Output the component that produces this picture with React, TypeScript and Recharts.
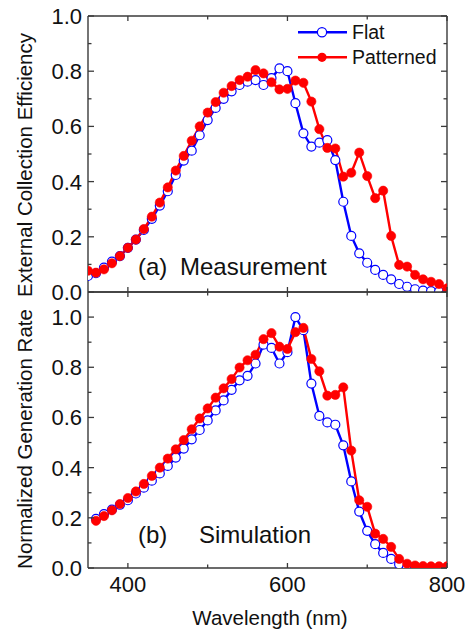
import React from 'react';
import { LineChart, Line, XAxis, YAxis } from 'recharts';

// ---------- data ----------
const wavelengthMeasured = [
  350, 360, 370, 380, 390, 400, 410, 420, 430, 440, 450, 460, 470, 480, 490, 500,
  510, 520, 530, 540, 550, 560, 570, 580, 590, 600, 610, 620, 630, 640, 650, 660,
  670, 680, 690, 700, 710, 720, 730, 740, 750, 760, 770, 780, 790, 800,
];
const flatMeasured = [
  0.058, 0.068, 0.088, 0.11, 0.13, 0.16, 0.19, 0.225, 0.265, 0.313, 0.365, 0.424, 0.476, 0.512, 0.568, 0.623,
  0.667, 0.7, 0.727, 0.75, 0.762, 0.768, 0.75, 0.775, 0.81, 0.8, 0.684, 0.575, 0.527, 0.541, 0.55, 0.478,
  0.327, 0.203, 0.14, 0.106, 0.08, 0.062, 0.046, 0.029, 0.019, 0.01, 0.005, 0.003, 0.001, 0.0,
];
const patternedMeasured = [
  0.077, 0.07, 0.082, 0.104, 0.13, 0.16, 0.19, 0.228, 0.273, 0.324, 0.379, 0.44, 0.493, 0.548, 0.6, 0.65,
  0.688, 0.722, 0.746, 0.768, 0.78, 0.804, 0.792, 0.76, 0.734, 0.736, 0.766, 0.758, 0.69, 0.59, 0.522, 0.52,
  0.418, 0.432, 0.505, 0.42, 0.34, 0.367, 0.203, 0.098, 0.092, 0.062, 0.046, 0.037, 0.029, 0.013,
];

const wavelengthSimulated = [
  360, 370, 380, 390, 400, 410, 420, 430, 440, 450, 460, 470, 480, 490, 500,
  510, 520, 530, 540, 550, 560, 570, 580, 590, 600, 610, 620, 630, 640, 650, 660,
  670, 680, 690, 700, 710, 720, 730, 740, 750, 760, 770, 780, 790, 800,
];
const flatSimulated = [
  0.196, 0.215, 0.233, 0.252, 0.27, 0.297, 0.32, 0.348, 0.377, 0.407, 0.44, 0.476, 0.513, 0.55, 0.588,
  0.628, 0.668, 0.71, 0.748, 0.766, 0.815, 0.89, 0.877, 0.815, 0.86, 1.0, 0.948, 0.735, 0.606, 0.58, 0.571,
  0.489, 0.345, 0.225, 0.148, 0.095, 0.06, 0.036, 0.015, 0.003, 0, 0, 0, 0, 0,
];
const patternedSimulated = [
  0.188, 0.207, 0.23, 0.255, 0.279, 0.305, 0.335, 0.367, 0.4, 0.436, 0.473, 0.51, 0.553, 0.596, 0.636,
  0.679, 0.716, 0.753, 0.799, 0.828, 0.85, 0.912, 0.936, 0.882, 0.873, 0.94, 0.957, 0.833, 0.784, 0.687, 0.69,
  0.72, 0.468, 0.27, 0.244, 0.137, 0.116, 0.084, 0.036, 0.017, 0.01, 0.008, 0.007, 0.007, 0.007,
];

const xTicks = [400, 500, 600, 700, 800];
const xLabelTicks = [400, 600, 800];
const yTicks = [0, 0.1, 0.2, 0.3, 0.4, 0.5, 0.6, 0.7, 0.8, 0.9, 1.0];
const yLabelTicks = [0, 0.2, 0.4, 0.6, 0.8, 1.0];
const xDomain = [350, 800];
const yDomainMeasured = [0, 1.0];
const yDomainSimulated = [0, 1.1];

const seriesNames = ['Flat', 'Patterned'];
const BLUE = '#0000ff';
const RED = '#ff0000';
const FRAME = '#3a3a3a';
const TEXT = '#111111';
const FONT = '"Liberation Sans", Arial, Helvetica, sans-serif';

const measuredRows = wavelengthMeasured.map((w, i) => ({
  w,
  flat: flatMeasured[i],
  patterned: patternedMeasured[i],
}));
const simulatedRows = wavelengthSimulated.map((w, i) => ({
  w,
  flat: flatSimulated[i],
  patterned: patternedSimulated[i],
}));

// ---------- ticks ----------
const near = (list: number[], v: number) => list.some((t) => Math.abs(t - v) < 1e-6);

function renderYTick(props: any, side: 'left' | 'right', labels: boolean) {
  const { x, y, payload } = props;
  const v = payload.value as number;
  const major = near(yLabelTicks, v);
  const len = major ? 6 : 3.5;
  const dir = side === 'left' ? 1 : -1;
  return (
    <g>
      <line x1={x} x2={x + dir * len} y1={y} y2={y} stroke={FRAME} strokeWidth={1.3} />
      {labels && major ? (
        <text x={x - 6} y={y} dy="0.36em" textAnchor="end" fontSize={22} fontFamily={FONT} fill={TEXT}>
          {v.toFixed(1)}
        </text>
      ) : null}
    </g>
  );
}

function renderXTick(props: any, side: 'top' | 'bottom', labels: boolean) {
  const { x, y, payload } = props;
  const v = payload.value as number;
  const major = near(xLabelTicks, v);
  const len = major ? 5 : 3.5;
  const dir = side === 'bottom' ? -1 : 1;
  return (
    <g>
      <line x1={x} x2={x} y1={y} y2={y + dir * len} stroke={FRAME} strokeWidth={1.3} />
      {labels && major ? (
        <text x={x} y={y + 24} textAnchor="middle" fontSize={22} fontFamily={FONT} fill={TEXT}>
          {String(v)}
        </text>
      ) : null}
    </g>
  );
}

const axisLine = { stroke: FRAME, strokeWidth: 1.4 };

function frameAxes(yDomain: number[], xLabels: boolean) {
  return [
    <XAxis
      key="xb"
      xAxisId="main"
      type="number"
      dataKey="w"
      domain={xDomain}
      allowDataOverflow
      ticks={xTicks}
      interval={0}
      orientation="bottom"
      height={1}
      tickSize={0}
      tickMargin={0}
      axisLine={axisLine}
      tickLine={false}
      tick={(p: any) => renderXTick(p, 'bottom', xLabels)}
    />,
    <XAxis
      key="xt"
      xAxisId="top"
      type="number"
      dataKey="w"
      domain={xDomain}
      allowDataOverflow
      ticks={xTicks}
      interval={0}
      orientation="top"
      height={1}
      tickSize={0}
      tickMargin={0}
      axisLine={axisLine}
      tickLine={false}
      tick={(p: any) => renderXTick(p, 'top', false)}
    />,
    <YAxis
      key="yl"
      yAxisId="main"
      type="number"
      domain={yDomain}
      allowDataOverflow
      ticks={yTicks}
      interval={0}
      orientation="left"
      width={1}
      tickSize={0}
      tickMargin={0}
      axisLine={axisLine}
      tickLine={false}
      tick={(p: any) => renderYTick(p, 'left', true)}
    />,
    <YAxis
      key="yr"
      yAxisId="right"
      type="number"
      domain={yDomain}
      allowDataOverflow
      ticks={yTicks}
      interval={0}
      orientation="right"
      width={1}
      tickSize={0}
      tickMargin={0}
      axisLine={axisLine}
      tickLine={false}
      tick={(p: any) => renderYTick(p, 'right', false)}
    />,
  ];
}

function seriesLines() {
  return [
    <Line
      key="flat"
      xAxisId="main"
      yAxisId="main"
      type="linear"
      dataKey="flat"
      name={seriesNames[0]}
      stroke={BLUE}
      strokeWidth={2.4}
      dot={{ r: 4.5, fill: '#ffffff', stroke: BLUE, strokeWidth: 1.2 }}
      activeDot={false}
      isAnimationActive={false}
    />,
    <Line
      key="patterned"
      xAxisId="main"
      yAxisId="main"
      type="linear"
      dataKey="patterned"
      name={seriesNames[1]}
      stroke={RED}
      strokeWidth={2.4}
      dot={{ r: 4.6, fill: RED, stroke: RED, strokeWidth: 0.6 }}
      activeDot={false}
      isAnimationActive={false}
    />,
  ];
}

const txt = { fontFamily: FONT, fill: TEXT } as const;

export default function App() {
  return (
    <div style={{ position: 'absolute', left: 0, top: 0, width: 469, height: 633, background: '#fff' }}>
      <div style={{ position: 'absolute', left: 0, top: 0 }}>
        <LineChart
          width={469}
          height={312}
          data={measuredRows}
          margin={{ top: 15, right: 21, bottom: 19, left: 87 }}
        >
          {frameAxes(yDomainMeasured, false)}
          {seriesLines()}
        </LineChart>
      </div>
      <div style={{ position: 'absolute', left: 0, top: 280 }}>
        <LineChart
          width={469}
          height={353}
          data={simulatedRows}
          margin={{ top: 11, right: 21, bottom: 64, left: 87 }}
        >
          {frameAxes(yDomainSimulated, true)}
          {seriesLines()}
        </LineChart>
      </div>
      <svg
        width={469}
        height={633}
        style={{ position: 'absolute', left: 0, top: 0, pointerEvents: 'none' }}
      >
        {/* legend */}
        <line x1={298} x2={347} y1={32.3} y2={32.3} stroke={BLUE} strokeWidth={2.4} />
        <circle cx={322} cy={32.3} r={4.6} fill="#fff" stroke={BLUE} strokeWidth={1.2} />
        <text x={352} y={39} fontSize={19.5} {...txt}>{seriesNames[0]}</text>
        <line x1={298} x2={347} y1={57.3} y2={57.3} stroke={RED} strokeWidth={2.4} />
        <circle cx={322} cy={57.3} r={4.6} fill={RED} />
        <text x={352} y={64} fontSize={19.5} {...txt}>{seriesNames[1]}</text>

        {/* panel labels */}
        <text x={138} y={275} fontSize={24} {...txt}>(a)</text>
        <text x={180} y={275} fontSize={24} {...txt}>Measurement</text>
        <text x={138} y={543} fontSize={24} {...txt}>(b)</text>
        <text x={199} y={543} fontSize={24} {...txt}>Simulation</text>

        {/* axis titles */}
        <text
          x={32}
          y={165}
          transform="rotate(-90 32 165)"
          textAnchor="middle"
          fontSize={20.5}
          {...txt}
        >
          External Collection Efficiency
        </text>
        <text
          x={32}
          y={439}
          transform="rotate(-90 32 439)"
          textAnchor="middle"
          fontSize={20.5}
          {...txt}
        >
          Normalized Generation Rate
        </text>
        <text x={270} y={625} textAnchor="middle" fontSize={20.5} {...txt}>
          Wavelength (nm)
        </text>
      </svg>
    </div>
  );
}
